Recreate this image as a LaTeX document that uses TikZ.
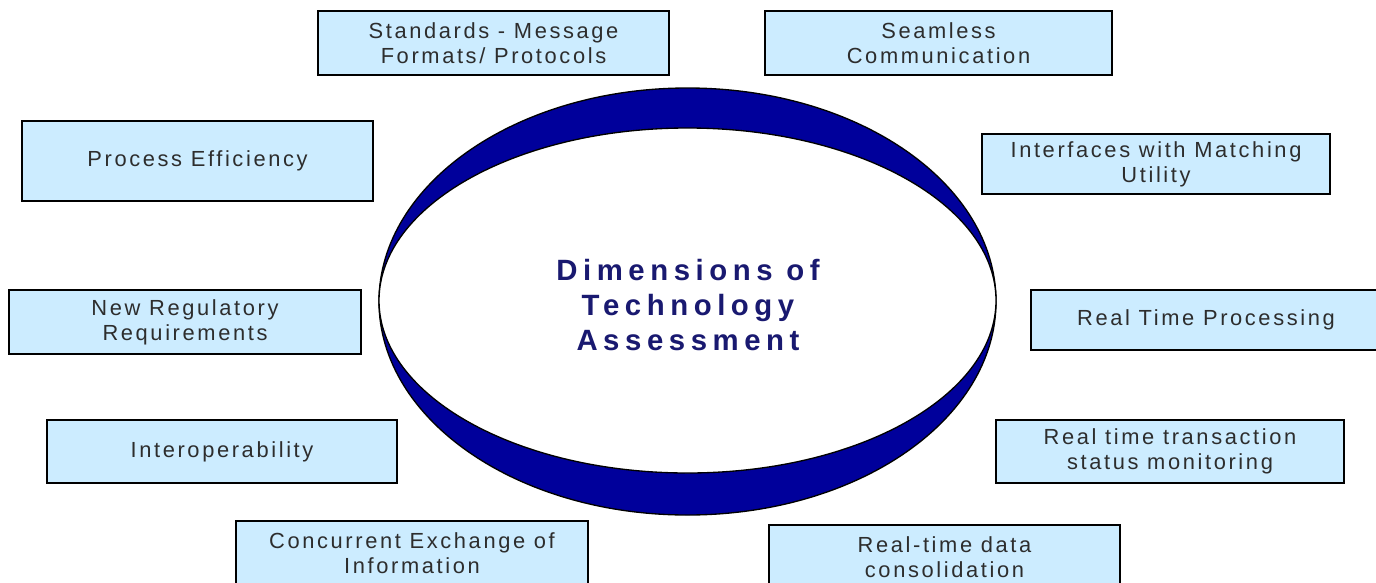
\documentclass[tikz,border=0pt]{standalone}
\usepackage{fontspec}
\setmainfont{Liberation Sans}
\newfontfamily\boxfont[LetterSpace=12]{Liberation Sans}
\newfontfamily\titlefont[LetterSpace=19]{Liberation Sans}
\usetikzlibrary{shapes.geometric}

\definecolor{boxblue}{RGB}{204,236,255}
\definecolor{ringblue}{RGB}{0,0,155}
\definecolor{titleblue}{RGB}{25,25,112}
\definecolor{boxtext}{RGB}{45,45,45}

\tikzset{
  dimbox/.style={draw=black, line width=1.4pt, fill=boxblue, text=boxtext,
    inner sep=0pt, align=center, font=\boxfont\fontsize{16.4pt}{18.75pt}\selectfont},
  dimtitle/.style={text=titleblue, align=center,
    font=\titlefont\bfseries\fontsize{22pt}{26.25pt}\selectfont}
}

\begin{document}
\begin{tikzpicture}[x=0.75pt, y=-0.75pt]
\useasboundingbox (0,0) rectangle (1376,582);
\clip (0,0) rectangle (1376,582);

\filldraw[fill=ringblue, draw=black, line width=1pt] (687.5,301.5) ellipse [x radius=308.5, y radius=213.5];
\node[ellipse, draw=black, fill=white, line width=1pt, inner sep=0pt, minimum width=462.75pt, minimum height=258.75pt] (core) at (687.5,300.5) {};
\node[dimtitle] (dims) at (688,305) {Dimensions of\\Technology\\Assessment};

\node[dimbox, minimum width=263.25pt, minimum height=48pt] (std) at (493.5,43) {Standards - Message\\Formats/ Protocols};
\node[dimbox, minimum width=260.25pt, minimum height=48pt] (seamless) at (938.5,43) {Seamless\\Communication};
\node[dimbox, minimum width=263.25pt, minimum height=60pt] (proceff) at (197.5,161) {Process Efficiency};
\node[dimbox, minimum width=261pt, minimum height=45pt] (interfaces) at (1156,164) {Interfaces with Matching\\Utility};
\node[dimbox, minimum width=264pt, minimum height=48pt] (newreg) at (185,322) {New Regulatory\\Requirements};
\node[dimbox, minimum width=262.5pt, minimum height=45pt] (rtproc) at (1206,320) {Real Time Processing};
\node[dimbox, minimum width=262.5pt, minimum height=47.25pt] (interop) at (222,451.5) {Interoperability};
\node[dimbox, minimum width=261pt, minimum height=47.25pt] (rtstatus) at (1170,451.5) {Real time transaction\\status monitoring};
\node[dimbox, minimum width=264pt, minimum height=48pt] (concurrent) at (412,553) {Concurrent Exchange of\\Information};
\node[dimbox, minimum width=263.25pt, minimum height=48pt] (rtdata) at (944.5,557) {Real-time data\\consolidation};
\end{tikzpicture}
\end{document}
